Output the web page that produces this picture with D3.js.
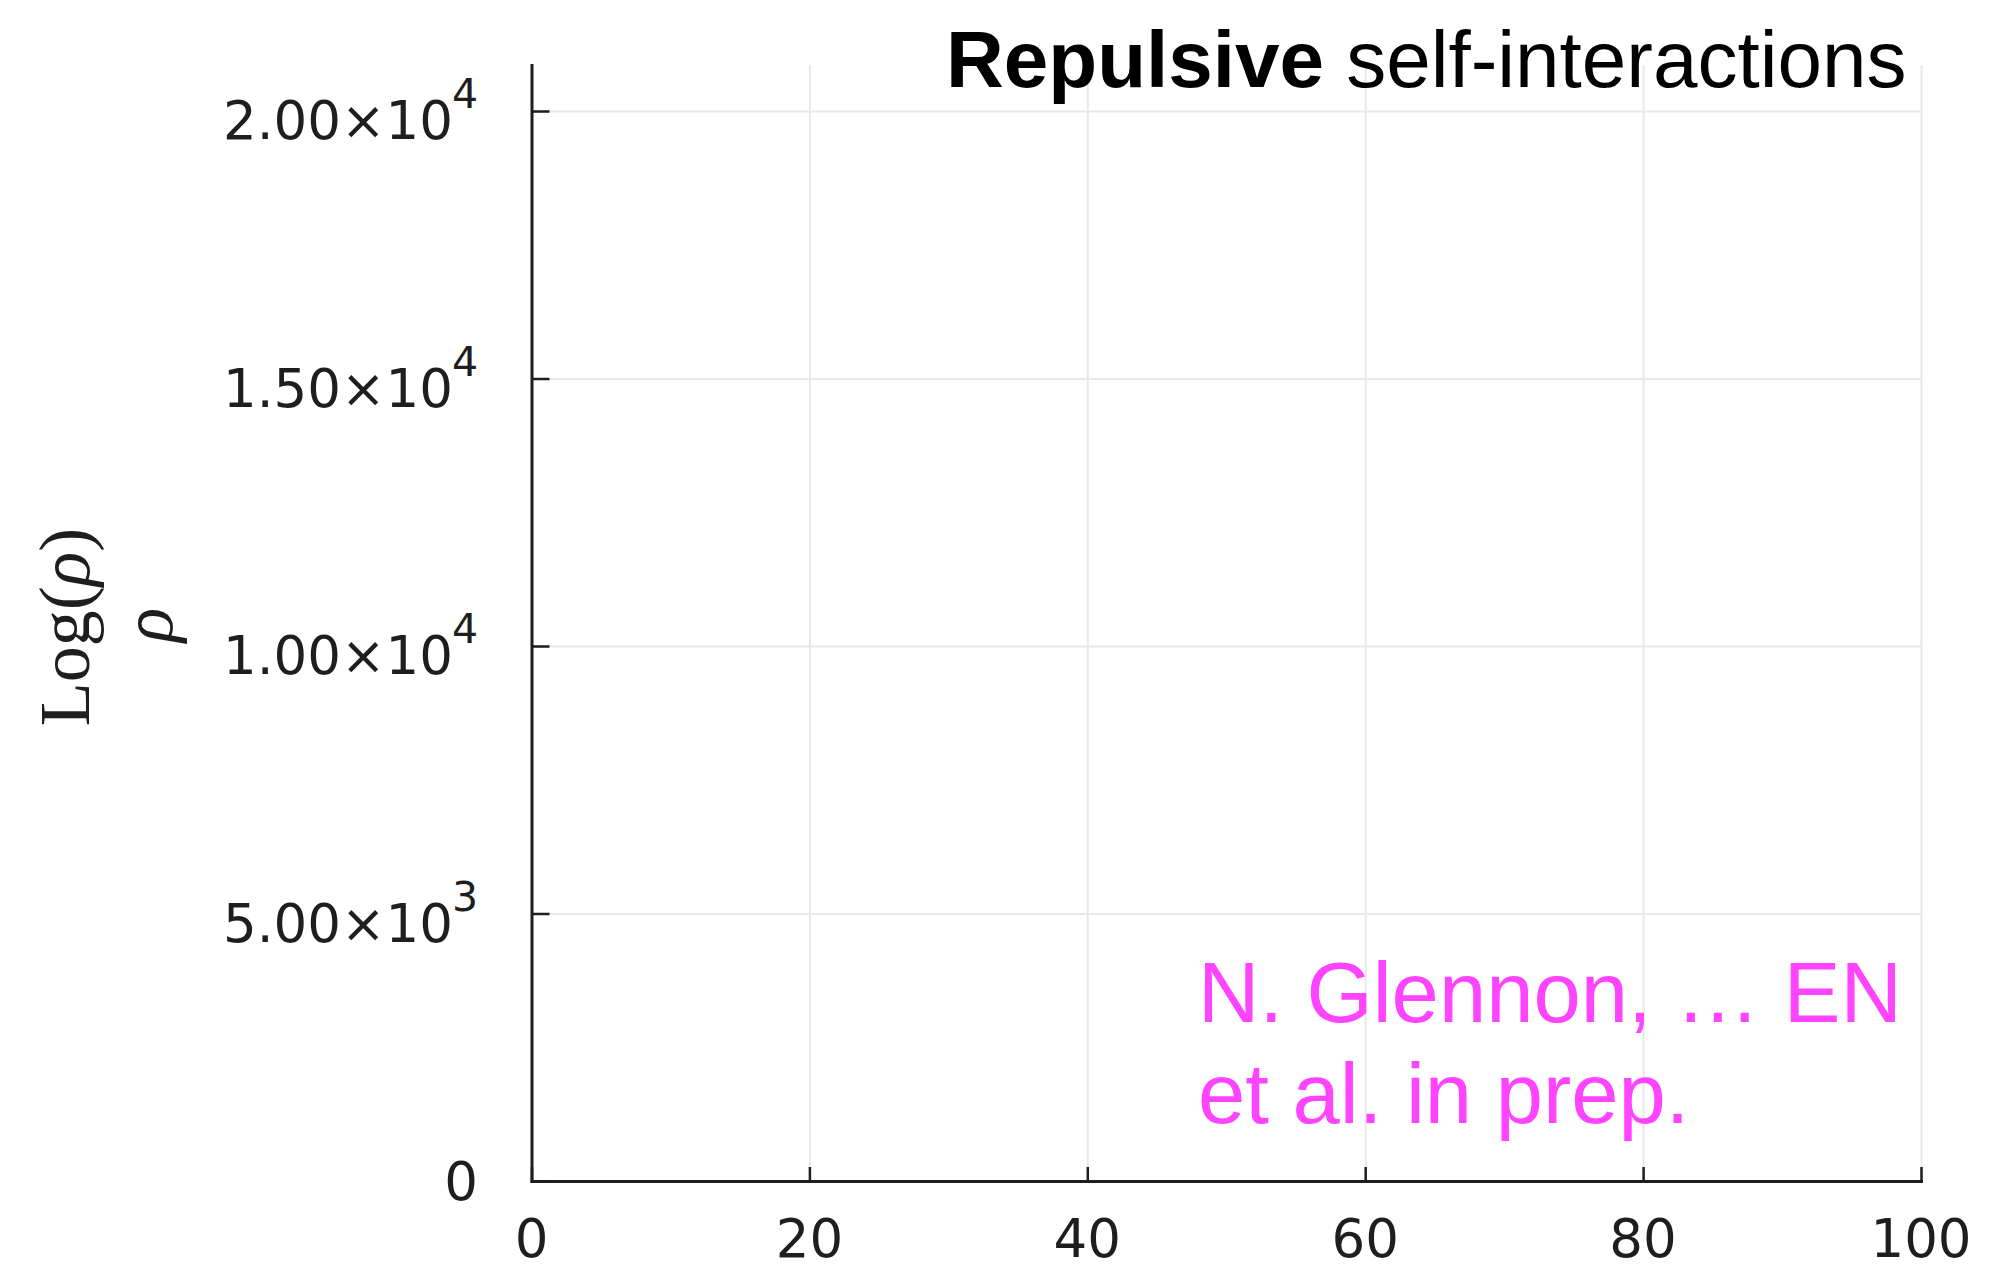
<!DOCTYPE html>
<html>
<head>
<meta charset="utf-8">
<script src="https://cdn.jsdelivr.net/npm/d3@7"></script>
<style>
  html, body { margin: 0; padding: 0; background: #ffffff; }
  svg { display: block; }
</style>
</head>
<body>
<script>
// Axis ranges and tick labels
const xDomain = [0, 100];
const yDomain = [0, 20860];
const xTicks = [0, 20, 40, 60, 80, 100];
const yTicks = [0, 5000, 10000, 15000, 20000];
const yTickMantissa = ["0", "5.00×10", "1.00×10", "1.50×10", "2.00×10"];
const yTickExponent = ["", "3", "4", "4", "4"];

// Annotation text
const titleBold = "Repulsive";
const titleRest = " self-interactions";
const noteLines = ["N. Glennon, … EN", "et al. in prep."];

const W = 1998, H = 1283;
const plot = { left: 531.5, right: 1921, top: 65, bottom: 1181 };

const svg = d3.select("body").append("svg")
  .attr("width", W).attr("height", H)
  .attr("viewBox", `0 0 ${W} ${H}`);

svg.append("rect").attr("width", W).attr("height", H).attr("fill", "#ffffff");

const x = d3.scaleLinear().domain(xDomain).range([plot.left, plot.right]);
const y = d3.scaleLinear().domain(yDomain).range([plot.bottom, plot.top]);

const tickFont = "'DejaVu Sans', sans-serif";
const ink = "#1e1e1e";

// Grid lines
const gx = svg.append("g")
  .attr("transform", `translate(0,${plot.bottom})`)
  .call(d3.axisBottom(x).tickValues(xTicks.slice(1)).tickSize(-(plot.bottom - plot.top)).tickFormat(""));
const gy = svg.append("g")
  .attr("transform", `translate(${plot.left},0)`)
  .call(d3.axisLeft(y).tickValues(yTicks.slice(1)).tickSize(-(plot.right - plot.left)).tickFormat(""));
[gx, gy].forEach(g => {
  g.select(".domain").remove();
  g.selectAll(".tick line").attr("stroke", "#e8e8e8").attr("stroke-width", 2);
});

// Axes with inward ticks
const ax = svg.append("g")
  .attr("transform", `translate(0,${plot.bottom})`)
  .call(d3.axisBottom(x).tickValues(xTicks).tickSize(-14).tickSizeOuter(0).tickFormat(""));
const ay = svg.append("g")
  .attr("transform", `translate(${plot.left},0)`)
  .call(d3.axisLeft(y).tickValues(yTicks).tickSize(-18).tickSizeOuter(0).tickFormat(""));
[ax, ay].forEach(g => {
  g.select(".domain").attr("stroke", ink).attr("stroke-width", 3).attr("stroke-linecap", "square");
  g.selectAll(".tick line").attr("stroke", ink).attr("stroke-width", 2.5);
});

// X tick labels
svg.append("g").selectAll("text")
  .data(xTicks)
  .join("text")
  .attr("x", d => x(d))
  .attr("y", plot.bottom + 76)
  .attr("text-anchor", "middle")
  .attr("font-family", tickFont)
  .attr("font-size", 53)
  .attr("fill", ink)
  .text(d => d);

// Y tick labels with superscript exponents
const yl = svg.append("g").selectAll("text")
  .data(yTicks)
  .join("text")
  .attr("x", 478)
  .attr("y", (d, i) => y(d) + (yTickExponent[i] ? 28 : 19))
  .attr("text-anchor", "end")
  .attr("font-family", tickFont)
  .attr("font-size", 53)
  .attr("fill", ink);
yl.append("tspan").text((d, i) => yTickMantissa[i]);
yl.filter((d, i) => yTickExponent[i] !== "")
  .append("tspan")
  .attr("dx", -1)
  .attr("dy", -31)
  .attr("font-size", 41)
  .text(d => yTickExponent[yTicks.indexOf(d)]);

// Y axis labels (two overlapping labels)
const midY = (plot.top + plot.bottom) / 2;
const serif = "'Liberation Serif', 'DejaVu Serif', serif";
const lab1 = svg.append("text")
  .attr("transform", `translate(89,${midY + 4}) rotate(-90)`)
  .attr("text-anchor", "middle")
  .attr("font-family", serif)
  .attr("font-size", 72)
  .attr("fill", ink);
lab1.append("tspan").text("Log(");
lab1.append("tspan").attr("font-style", "italic").text("ρ");
lab1.append("tspan").text(")");

svg.append("text")
  .attr("transform", `translate(172,${midY + 2}) rotate(-90)`)
  .attr("text-anchor", "middle")
  .attr("font-family", serif)
  .attr("font-style", "italic")
  .attr("font-size", 72)
  .attr("fill", ink)
  .text("ρ");

// Title
const sans = "'Helvetica Neue', Helvetica, 'Liberation Sans', Arial, sans-serif";
const t = svg.append("text")
  .attr("x", 946)
  .attr("y", 87)
  .attr("font-family", sans)
  .attr("font-size", 80)
  .attr("fill", "#000000");
t.append("tspan").attr("font-weight", "bold").text(titleBold);
t.append("tspan").attr("font-weight", 300).text(titleRest);

// Citation note
svg.append("g").selectAll("text")
  .data(noteLines)
  .join("text")
  .attr("x", 1198)
  .attr("y", (d, i) => 1022 + i * 101)
  .attr("font-family", sans)
  .attr("font-size", 85)
  .attr("fill", "#ff44ff")
  .text(d => d);
</script>
</body>
</html>
